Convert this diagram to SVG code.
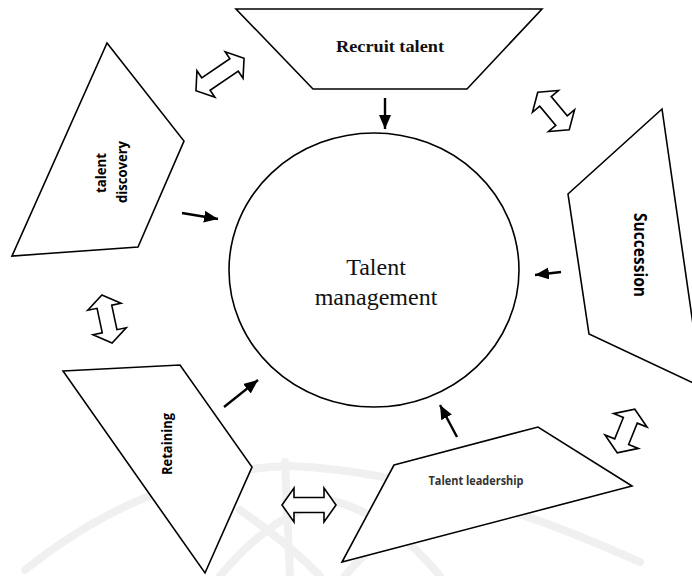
<svg xmlns="http://www.w3.org/2000/svg" width="692" height="576" viewBox="0 0 692 576">
<style>
.shape{fill:#fff;stroke:#000;stroke-width:1.6;stroke-linejoin:miter}
.dbl{fill:#fff;stroke:#000;stroke-width:1.6;stroke-linejoin:miter}
.conn{stroke:#000;stroke-width:2.4;fill:none}
.lbl{font-family:"Open Sans","Liberation Sans",sans-serif;font-weight:bold;fill:#000;text-anchor:middle}
.serif{font-family:"Liberation Serif","DejaVu Serif",serif;fill:#111;text-anchor:middle}
.wm{fill:none;stroke:#f0f0f0;stroke-width:8;stroke-linecap:round}
</style>
<defs>
<marker id="ah" markerUnits="userSpaceOnUse" markerWidth="15" markerHeight="13" refX="14" refY="6" orient="auto">
<path d="M0,0 L14,6 L0,12 Z" fill="#000"/>
</marker>
</defs>
<rect width="692" height="576" fill="#fff"/>
<g id="watermark">
<path class="wm" d="M 25 570 Q 150 470 290 466"/>
<path class="wm" d="M 290 466 Q 440 472 640 562"/>
<path class="wm" d="M 285 462 L 290 576"/>
<path class="wm" d="M 220 576 Q 270 515 330 500 Q 390 515 440 576"/>
<path class="wm" d="M 240 510 Q 290 545 320 576"/>
<path class="wm" d="M 420 510 Q 370 545 345 576"/>
</g>
<g id="center">
<ellipse cx="374" cy="270" rx="145" ry="137" class="shape"/>
<text class="serif" x="376" y="275" font-size="24">Talent</text>
<text class="serif" x="376" y="305" font-size="24">management</text>
</g>
<g id="recruit">
<polygon class="shape" points="236,9 542,9 467,89 313,89"/>
<text class="serif" x="390" y="52" font-size="17" font-weight="bold" textLength="108" lengthAdjust="spacingAndGlyphs">Recruit talent</text>
</g>
<g id="discovery">
<polygon class="shape" points="107,43 184,141 138,247 12,256"/>
<text class="lbl" font-size="14" textLength="40" lengthAdjust="spacingAndGlyphs" transform="translate(106,173) rotate(-90)">talent</text>
<text class="lbl" font-size="14" textLength="62" lengthAdjust="spacingAndGlyphs" transform="translate(127,172) rotate(-90)">discovery</text>
</g>
<g id="succession">
<polygon class="shape" points="662,109 568,194 589,334 702,387"/>
<text class="lbl" font-size="17" textLength="84" lengthAdjust="spacingAndGlyphs" transform="translate(634,255) rotate(90)">Succession</text>
</g>
<g id="retaining">
<polygon class="shape" points="63,371 180,365 252,467 205,573"/>
<text class="lbl" font-size="14" textLength="62" lengthAdjust="spacingAndGlyphs" transform="translate(172,444) rotate(-90)">Retaining</text>
</g>
<g id="leadership">
<polygon class="shape" points="394,465 538,427 632,486 342,562"/>
<text class="lbl" font-size="12" x="476" y="485" textLength="95" lengthAdjust="spacingAndGlyphs" style="fill:#333">Talent leadership</text>
</g>
<g id="connectors">
<line class="conn" x1="385" y1="98" x2="385" y2="129" marker-end="url(#ah)"/>
<line class="conn" x1="182" y1="213" x2="218" y2="219" marker-end="url(#ah)"/>
<line class="conn" x1="561" y1="272" x2="535" y2="275" marker-end="url(#ah)"/>
<line class="conn" x1="224" y1="407" x2="258" y2="380" marker-end="url(#ah)"/>
<line class="conn" x1="457" y1="437" x2="440" y2="405" marker-end="url(#ah)"/>
<path class="dbl" transform="translate(220,74.5) rotate(-34)" d="M -29 0 L -17 -16 L -17 -7.5 L 17 -7.5 L 17 -16 L 29 0 L 17 16 L 17 7.5 L -17 7.5 L -17 16 Z"/>
<path class="dbl" transform="translate(553.5,111) rotate(50)" d="M -24.5 0 L -12.5 -17 L -12.5 -7.5 L 12.5 -7.5 L 12.5 -17 L 24.5 0 L 12.5 17 L 12.5 7.5 L -12.5 7.5 L -12.5 17 Z"/>
<path class="dbl" transform="translate(107,319) rotate(78)" d="M -24.5 0 L -12.5 -17 L -12.5 -7.5 L 12.5 -7.5 L 12.5 -17 L 24.5 0 L 12.5 17 L 12.5 7.5 L -12.5 7.5 L -12.5 17 Z"/>
<path class="dbl" transform="translate(309,505)" d="M -27 0 L -15 -17 L -15 -7.5 L 15 -7.5 L 15 -17 L 27 0 L 15 17 L 15 7.5 L -15 7.5 L -15 17 Z"/>
<path class="dbl" transform="translate(626,431) rotate(-68)" d="M -23.5 0 L -11.5 -18 L -11.5 -7.5 L 11.5 -7.5 L 11.5 -18 L 23.5 0 L 11.5 18 L 11.5 7.5 L -11.5 7.5 L -11.5 18 Z"/>
</g>
</svg>
